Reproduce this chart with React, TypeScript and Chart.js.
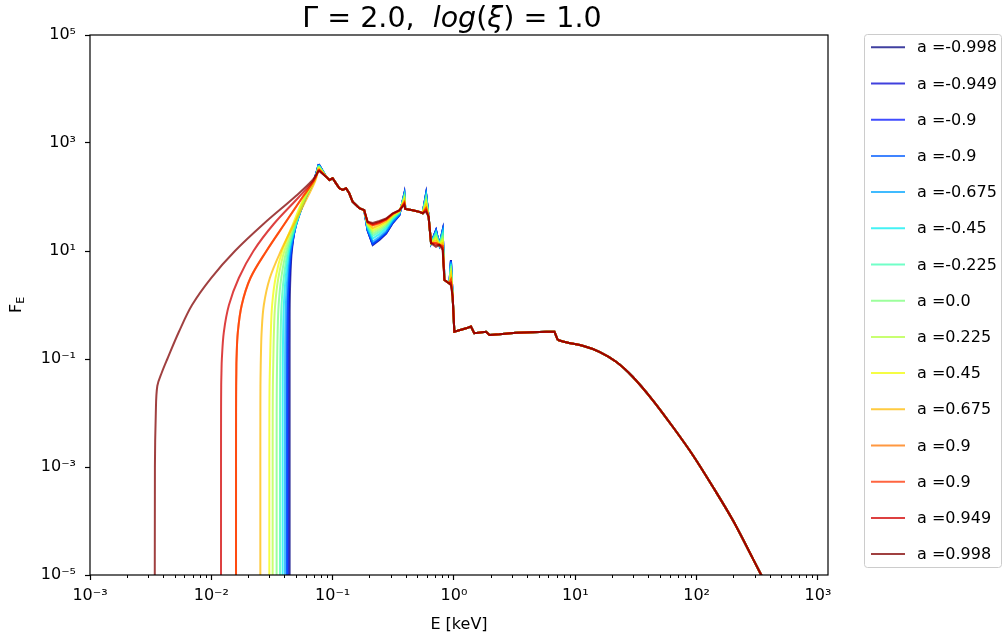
import React, { useEffect, useRef } from 'react';
import { Chart, registerables } from 'chart.js';
Chart.register(...registerables);

// ---- series labels & colours (jet colormap) ----
const spinLabels = ['-0.998', '-0.949', '-0.9', '-0.9', '-0.675', '-0.45', '-0.225', '0.0', '0.225', '0.45', '0.675', '0.9', '0.9', '0.949', '0.998'];
const jetRGB = [
  [0, 0, 128], [0, 0, 210], [0, 18, 255], [0, 91, 255], [0, 164, 255], [6, 237, 241], [65, 255, 182],
  [123, 255, 123], [182, 255, 65], [241, 252, 6], [255, 185, 0], [255, 117, 0], [255, 50, 0], [210, 0, 0], [128, 0, 0],
];
const lineAlpha = 0.75;

// ---- axis ticks ----
const xMajorTicks = [1e-3, 1e-2, 1e-1, 1, 10, 100, 1000];
const yMajorTicks = [1e-5, 1e-3, 1e-1, 10, 1e3, 1e5];

// ---- low-energy rise: flux levels and energy (keV) at which each curve reaches them ----
const riseFlux = [1e-8, 1e-3, 1e-2, 0.0316, 0.0562, 0.1, 0.316, 1, 3.16, 10, 31.6, 100, 200];
const riseE_m0998 = [0.04421, 0.04421, 0.04421, 0.04421, 0.04421, 0.04421, 0.04424, 0.04429, 0.0448, 0.04609, 0.04982, 0.06035, 0.06998];
const riseE_m0949 = [0.04314, 0.04314, 0.04314, 0.04314, 0.04314, 0.04314, 0.04322, 0.04347, 0.04421, 0.04575, 0.05002, 0.06024, 0.06998];
const riseE_m0900 = [0.04209, 0.04209, 0.0421, 0.04212, 0.04214, 0.04217, 0.04225, 0.04256, 0.04355, 0.04541, 0.05021, 0.06024, 0.07012];
const riseE_m0675 = [0.04053, 0.04053, 0.04054, 0.04056, 0.04058, 0.0406, 0.04076, 0.04115, 0.04233, 0.04472, 0.05021, 0.06013, 0.07026];
const riseE_m0450 = [0.03871, 0.03871, 0.03873, 0.03878, 0.03882, 0.03886, 0.03908, 0.03961, 0.04099, 0.0438, 0.05002, 0.06001, 0.07039];
const riseE_m0225 = [0.03684, 0.03684, 0.03686, 0.03692, 0.03698, 0.03705, 0.03733, 0.03791, 0.03952, 0.04281, 0.04973, 0.05979, 0.07065];
const riseE_p0000 = [0.03453, 0.03453, 0.03456, 0.03465, 0.03475, 0.03486, 0.0352, 0.03587, 0.03769, 0.04153, 0.04926, 0.05956, 0.07065];
const riseE_p0225 = [0.03202, 0.03202, 0.03205, 0.03215, 0.03228, 0.03244, 0.03281, 0.03357, 0.03567, 0.03999, 0.04834, 0.05911, 0.07065];
const riseE_p0450 = [0.03007, 0.03007, 0.0301, 0.0302, 0.03035, 0.03053, 0.03094, 0.03171, 0.03382, 0.03842, 0.04707, 0.05845, 0.07065];
const riseE_p0675 = [0.02535, 0.02535, 0.02536, 0.0254, 0.02548, 0.02559, 0.02598, 0.02709, 0.03036, 0.03741, 0.04797, 0.06211, 0.07201];
const riseE_p0900 = [0.01598, 0.01598, 0.01599, 0.01602, 0.01607, 0.01613, 0.01654, 0.01781, 0.02101, 0.02846, 0.04006, 0.05657, 0.06998];
const riseE_p0949 = [0.01202, 0.01202, 0.01203, 0.01206, 0.01212, 0.01221, 0.01268, 0.01397, 0.01685, 0.02224, 0.03269, 0.05275, 0.06933];
const riseE_p0998 = [0.00342, 0.003428, 0.003487, 0.003587, 0.003908, 0.004338, 0.005396, 0.006933, 0.00996, 0.01565, 0.02689, 0.04871, 0.06752];

// ---- line-region points where the curves differ (peak, 0.2-0.35 keV trough, edge spikes) ----
const varE = [0.0768, 0.194, 0.214, 0.243, 0.276, 0.313, 0.355, 0.39, 0.589, 0.711, 0.807, 0.944];
const varF_m0998 = [408, 24, 12.9, 16, 21, 33, 46, 118, 117, 24.5, 24.5, 6.8];
const varF_m0949 = [404, 24, 13.2, 16.3, 21.3, 33.3, 46.3, 117, 116, 24.3, 24.3, 6.7];
const varF_m0900 = [400, 24.5, 13.6, 16.8, 21.8, 34, 47, 115, 114, 24, 24, 6.5];
const varF_m0675 = [394, 25.5, 15, 18.3, 23.5, 36, 48.5, 112, 110, 23, 23, 6.2];
const varF_m0450 = [386, 27, 17, 20.5, 26, 38.5, 50, 108, 104, 22, 21.5, 5.8];
const varF_m0225 = [378, 28.5, 19, 22.5, 28, 40.5, 51.5, 104, 98, 21, 20, 5.3];
const varF_p0000 = [370, 30, 21, 24.5, 30, 42.5, 53, 100, 91, 19.5, 18.5, 4.8];
const varF_p0225 = [360, 31, 23, 26.5, 32, 44, 54, 95, 84, 18, 17, 4.3];
const varF_p0450 = [350, 32, 25, 28.5, 34, 45.5, 55, 90, 77, 17, 15.5, 3.9];
const varF_p0675 = [340, 33, 27, 30.5, 35.5, 47, 55.5, 85, 70, 15.5, 14, 3.4];
const varF_p0900 = [325, 34, 30, 33, 38, 48.5, 56, 79, 62, 14, 12.5, 2.9];
const varF_p0949 = [315, 34.5, 31.5, 34.5, 39, 49.5, 56.5, 75, 57, 13, 11.5, 2.6];
const varF_p0998 = [307, 35, 33, 36, 40, 50, 57, 71, 53, 12, 10.4, 2.3];

// ---- shared line-region spectrum (all spins overlap here) ----
const specE = [0.0883, 0.094, 0.1, 0.1066, 0.1136, 0.121, 0.129, 0.137, 0.146, 0.166, 0.182, 0.397, 0.457, 0.519, 0.552, 0.618, 0.647, 0.758, 0.834, 0.917, 0.975, 1.007, 1.26, 1.38, 1.47, 1.84, 1.96, 2.37, 3.25, 4.45, 5.74, 6.73, 7.16];
const specF = [238, 207, 222, 179, 145, 135, 145, 117, 82, 62, 57, 60, 57, 53, 50, 43, 14, 13, 2.9, 2.5, 1.43, 0.32, 0.37, 0.4, 0.3, 0.32, 0.278, 0.286, 0.307, 0.312, 0.32, 0.32, 0.225];
// ---- shared smooth high-energy tail ----
const tailE = [7.16, 8.4, 11.5, 15.8, 21.7, 29.7, 43.4, 63.5, 92.9, 136, 199, 290, 340, 420];
const tailF = [0.225, 0.204, 0.176, 0.136, 0.089, 0.047, 0.0174, 0.00558, 0.00167, 4.3e-4, 1.03e-4, 2.03e-5, 1.01e-5, 3.9e-6];

const riseSets = [riseE_m0998, riseE_m0949, riseE_m0900, riseE_m0900, riseE_m0675, riseE_m0450, riseE_m0225, riseE_p0000, riseE_p0225, riseE_p0450, riseE_p0675, riseE_p0900, riseE_p0900, riseE_p0949, riseE_p0998];
const varSets = [varF_m0998, varF_m0949, varF_m0900, varF_m0900, varF_m0675, varF_m0450, varF_m0225, varF_p0000, varF_p0225, varF_p0450, varF_p0675, varF_p0900, varF_p0900, varF_p0949, varF_p0998];

const FONT = '"DejaVu Sans", "Liberation Sans", sans-serif';
const SUP: Record<string, string> = { '-': '⁻', '0': '⁰', '1': '¹', '2': '²', '3': '³', '4': '⁴', '5': '⁵', '6': '⁶', '7': '⁷', '8': '⁸', '9': '⁹' };
const powLabel = (v: number) => '10' + String(Math.round(Math.log10(v))).split('').map((c) => SUP[c]).join('');
const rgba = (c: number[], a: number) => `rgba(${c[0]},${c[1]},${c[2]},${a})`;

function buildDatasets() {
  const ds: any[] = [];
  spinLabels.forEach((lab, i) => {
    const col = rgba(jetRGB[i], lineAlpha);
    const vf = varSets[i];
    const rise = riseSets[i].map((e, k) => ({ x: e, y: riseFlux[k] }));
    rise.push({ x: varE[0], y: vf[0] });
    const spec = varE.map((e, k) => ({ x: e, y: vf[k] })).concat(specE.map((e, k) => ({ x: e, y: specF[k] })));
    spec.sort((a, b) => a.x - b.x);
    const tail = tailE.map((e, k) => ({ x: e, y: tailF[k] }));
    const common = { borderColor: col, borderWidth: 2, pointRadius: 0, fill: false, order: spinLabels.length - 1 - i, label: 'a =' + lab };
    ds.push({ ...common, data: rise, cubicInterpolationMode: 'default', tension: 0.35, isLegend: true });
    ds.push({ ...common, data: spec, tension: 0, isLegend: false });
    ds.push({ ...common, data: tail, cubicInterpolationMode: 'monotone', isLegend: false });
  });
  return ds;
}

const decorPlugin = {
  id: 'decor',
  afterDraw(chart: any) {
    const { ctx, chartArea: ca, scales } = chart;
    const xs = scales.x;
    ctx.save();
    // minor x ticks
    ctx.strokeStyle = '#000';
    ctx.lineWidth = 1;
    for (let k = -3; k <= 3; k++) {
      for (let m = 2; m <= 9; m++) {
        const v = m * Math.pow(10, k);
        if (v < xs.min || v > xs.max) continue;
        const px = Math.round(xs.getPixelForValue(v)) + 0.5;
        ctx.beginPath();
        ctx.moveTo(px, ca.bottom);
        ctx.lineTo(px, ca.bottom + 3);
        ctx.stroke();
      }
    }
    // frame
    ctx.lineWidth = 1.2;
    ctx.strokeRect(ca.left, ca.top, ca.right - ca.left, ca.bottom - ca.top);

    // title (mathtext-like: italic "log" and "ξ")
    const TS = 28.5;
    const segs: [string, string][] = [['Γ', ''], [' = ', ''], ['2.0,  ', ''], ['log', 'italic '], ['(', ''], ['ξ', 'italic '], [')', ''], [' = ', ''], ['1.0', '']];
    let total = 0;
    const widths = segs.map(([t, st]) => {
      ctx.font = `${st}${TS}px ${FONT}`;
      const w = ctx.measureText(t).width;
      total += w;
      return w;
    });
    let tx = (ca.left + ca.right) / 2 - 7 - total / 2;
    ctx.fillStyle = '#000';
    ctx.textBaseline = 'alphabetic';
    ctx.textAlign = 'left';
    segs.forEach(([t, st], k) => {
      ctx.font = `${st}${TS}px ${FONT}`;
      ctx.fillText(t, tx, 27);
      tx += widths[k];
    });

    // x axis title
    ctx.font = `16px ${FONT}`;
    ctx.textAlign = 'center';
    ctx.fillText('E [keV]', (ca.left + ca.right) / 2, 629);

    // y axis title F_E
    ctx.save();
    ctx.translate(21, (ca.top + ca.bottom) / 2);
    ctx.rotate(-Math.PI / 2);
    ctx.textAlign = 'left';
    ctx.font = `16px ${FONT}`;
    const fw = ctx.measureText('F').width;
    ctx.font = `11px ${FONT}`;
    const ew = ctx.measureText('E').width;
    const sx = -(fw + ew) / 2;
    ctx.font = `16px ${FONT}`;
    ctx.fillText('F', sx, 0);
    ctx.font = `11px ${FONT}`;
    ctx.fillText('E', sx + fw, 3);
    ctx.restore();

    // legend
    const lx = ca.right + 36;
    const ly = ca.top - 1;
    const lw = 137;
    const lh = 533;
    ctx.beginPath();
    ctx.roundRect(lx + 0.5, ly + 0.5, lw, lh, 3);
    ctx.fillStyle = 'rgba(255,255,255,0.8)';
    ctx.fill();
    ctx.strokeStyle = 'rgba(204,204,204,1)';
    ctx.lineWidth = 1;
    ctx.stroke();
    const items = chart.data.datasets.filter((d: any) => d.isLegend);
    items.forEach((d: any, k: number) => {
      const yy = ly + 13.3 + k * 36.2;
      ctx.strokeStyle = d.borderColor;
      ctx.lineWidth = 2;
      ctx.beginPath();
      ctx.moveTo(lx + 7, yy);
      ctx.lineTo(lx + 41, yy);
      ctx.stroke();
      ctx.fillStyle = '#000';
      ctx.font = `16px ${FONT}`;
      ctx.textAlign = 'left';
      ctx.textBaseline = 'middle';
      ctx.fillText(d.label, lx + 53, yy + 1);
    });
    ctx.restore();
  },
};

export default function App() {
  const ref = useRef<HTMLCanvasElement>(null);
  useEffect(() => {
    const chart = new Chart(ref.current as HTMLCanvasElement, {
      type: 'line',
      data: { datasets: buildDatasets() },
      options: {
        responsive: false,
        animation: false,
        layout: { padding: { top: 35, right: 175, left: 0, bottom: 0 } },
        plugins: { legend: { display: false }, title: { display: false }, tooltip: { enabled: false } },
        scales: {
          x: {
            type: 'logarithmic',
            min: 1e-3,
            max: 1210,
            afterBuildTicks: (s: any) => { s.ticks = xMajorTicks.map((v) => ({ value: v })); },
            afterFit: (s: any) => { s.height = 64; },
            ticks: { callback: (v: any) => powLabel(Number(v)), font: { family: FONT, size: 16 }, color: '#000', padding: 6, maxRotation: 0, autoSkip: false },
            grid: { display: true, drawOnChartArea: false, tickLength: 5, color: '#000', tickWidth: 1.2 },
            border: { display: false },
          },
          y: {
            type: 'logarithmic',
            min: 1e-5,
            max: 1e5,
            afterBuildTicks: (s: any) => { s.ticks = yMajorTicks.map((v) => ({ value: v })); },
            afterFit: (s: any) => { s.width = 90; },
            ticks: { callback: (v: any) => powLabel(Number(v)), font: { family: FONT, size: 16 }, color: '#000', padding: 9, autoSkip: false },
            grid: { display: true, drawOnChartArea: false, tickLength: 5, color: '#000', tickWidth: 1.2 },
            border: { display: false },
          },
        },
      } as any,
      plugins: [decorPlugin],
    } as any);
    return () => chart.destroy();
  }, []);
  return (
    <div style={{ position: 'absolute', left: 0, top: 0, width: 1003, height: 639, background: '#fff' }}>
      <canvas ref={ref} width={1003} height={639} style={{ display: 'block' }} />
    </div>
  );
}
